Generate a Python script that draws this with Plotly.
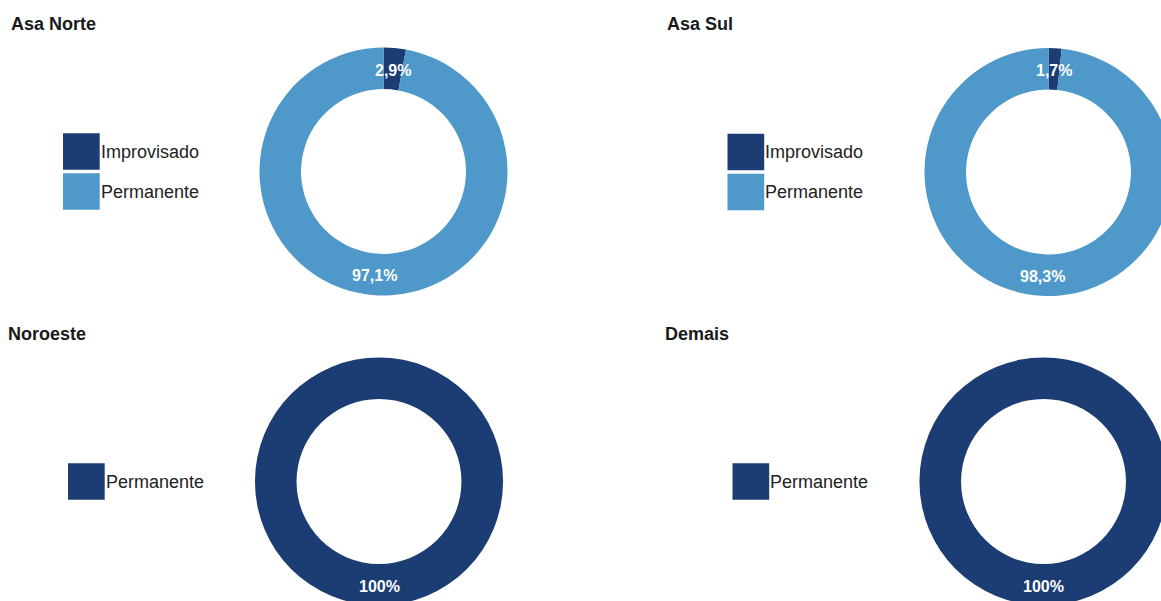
import math
import plotly.graph_objects as go

# Share (%) of each structure type by region
regioes = ["Asa Norte", "Asa Sul", "Noroeste", "Demais"]
categorias_asa_norte = ["Improvisado", "Permanente"]
valores_asa_norte = [2.9, 97.1]
categorias_asa_sul = ["Improvisado", "Permanente"]
valores_asa_sul = [1.7, 98.3]
categorias_noroeste = ["Permanente"]
valores_noroeste = [100]
categorias_demais = ["Permanente"]
valores_demais = [100]

paleta = ["#1B3D74", "#4E98CA"]

# Canvas is a bit larger than the visible window so the right/bottom rings are cut at the edge
FW, FH = 1180, 612
R_OUT = 124.0
HOLE = 0.665
R_MID = R_OUT * (1 + HOLE) / 2

# Panel placement in pixels: title anchor, legend left edge, ring centre
paineis = [
    dict(titulo=regioes[0], cats=categorias_asa_norte, vals=valores_asa_norte,
         tx=9, ty=24, lx=63, cx=383.5, cy=171.5),
    dict(titulo=regioes[1], cats=categorias_asa_sul, vals=valores_asa_sul,
         tx=665, ty=24, lx=727.5, cx=1048.5, cy=172),
    dict(titulo=regioes[2], cats=categorias_noroeste, vals=valores_noroeste,
         tx=5.5, ty=334, lx=68, cx=379, cy=481.5),
    dict(titulo=regioes[3], cats=categorias_demais, vals=valores_demais,
         tx=663, ty=334, lx=732.5, cx=1043.5, cy=481.5),
]


def px(x):
    return x / FW


def py(y):
    return 1 - y / FH


def rotulo(v):
    if float(v).is_integer():
        return f"{int(v)}%"
    return f"{v:.1f}".replace(".", ",") + "%"


fig = go.Figure()
annotations = []
shapes = []

FONT = "Liberation Sans, Arial, Helvetica, sans-serif"

for p in paineis:
    cores = paleta[:len(p["cats"])]
    fig.add_trace(go.Pie(
        labels=p["cats"], values=p["vals"], hole=HOLE, sort=False,
        direction="clockwise", rotation=0, textinfo="none",
        marker=dict(colors=cores, line=dict(width=0)),
        domain=dict(x=[px(p["cx"] - R_OUT), px(p["cx"] + R_OUT)],
                    y=[py(p["cy"] + R_OUT), py(p["cy"] - R_OUT)]),
        showlegend=False, hoverinfo="label+percent",
    ))

    # Percentage labels placed at the middle of each ring segment
    total = sum(p["vals"])
    acum = 0.0
    for v in p["vals"]:
        meio = (acum + v / 2) / total * 2 * math.pi
        acum += v
        lx = p["cx"] + R_MID * math.sin(meio)
        ly = p["cy"] - R_MID * math.cos(meio) + 1.5
        annotations.append(dict(
            x=px(lx), y=py(ly), xref="paper", yref="paper",
            text=rotulo(v), showarrow=False, xanchor="center", yanchor="middle",
            font=dict(family=FONT, size=16, color="white", weight="bold"),
        ))

    # Panel title
    annotations.append(dict(
        x=px(p["tx"]), y=py(p["ty"]), xref="paper", yref="paper",
        text=f"<b>{p['titulo']}</b>", showarrow=False,
        xanchor="left", yanchor="middle",
        font=dict(family=FONT, size=18, color="#1a1a1a"),
    ))

    # Legend: coloured squares with category names
    n = len(p["cats"])
    lado, passo = 36.7, 40.0
    topo = p["cy"] - (n * passo - (passo - lado)) / 2
    for i, (cat, cor) in enumerate(zip(p["cats"], cores)):
        y0 = topo + i * passo
        shapes.append(dict(
            type="rect", xref="paper", yref="paper",
            x0=px(p["lx"]), x1=px(p["lx"] + lado),
            y0=py(y0 + lado), y1=py(y0),
            fillcolor=cor, line=dict(width=0), layer="above",
        ))
        annotations.append(dict(
            x=px(p["lx"] + lado - 0.8), y=py(y0 + lado / 2), xref="paper", yref="paper",
            text=cat, showarrow=False, xanchor="left", yanchor="middle",
            font=dict(family=FONT, size=18, color="#222222"),
        ))

fig.update_layout(
    width=FW, height=FH,
    margin=dict(l=0, r=0, t=0, b=0),
    paper_bgcolor="white", plot_bgcolor="white",
    annotations=annotations, shapes=shapes,
    showlegend=False,
)

fig.write_html(
    "out.html",
    post_script="document.body.style.margin='0';"
                "document.body.style.overflow='hidden';"
                "document.documentElement.style.overflow='hidden';",
)
